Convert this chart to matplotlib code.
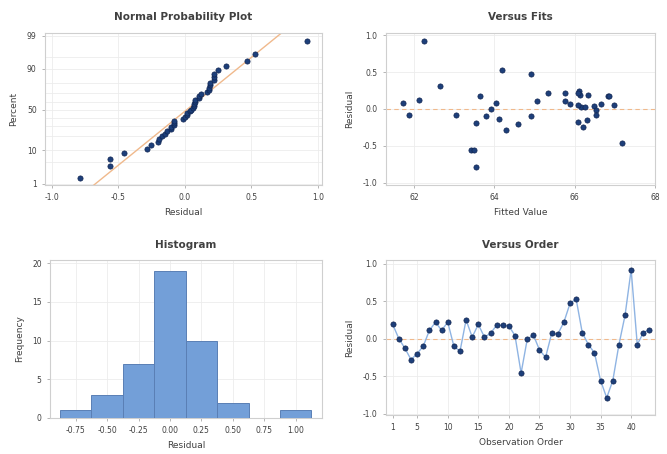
from statistics import NormalDist

import numpy as np
import matplotlib
matplotlib.use("Agg")
import matplotlib.pyplot as plt

residuals = [0.19, 0.00, -0.13, -0.28, -0.20, -0.10, 0.11, 0.22, 0.11, 0.22,
             -0.10, -0.17, 0.25, 0.02, 0.19, 0.02, 0.07, 0.18, 0.18, 0.17,
             0.04, -0.46, -0.01, 0.05, -0.15, -0.25, 0.07, 0.06, 0.22, 0.47,
             0.53, 0.08, -0.08, -0.19, -0.56, -0.79, -0.56, -0.08, 0.31, 0.92,
             -0.08, 0.08, 0.12]
# fitted values matched to the same observations ("Versus Fits")
fitted = [66.33, 63.91, 64.12, 64.28, 64.59, 64.90, 65.76, 65.33, 65.07, 65.75,
          63.80, 66.08, 66.10, 66.16, 66.12, 66.25, 65.89, 63.64, 66.82, 66.86,
          66.49, 67.18, 66.53, 66.97, 66.31, 66.20, 66.66, 66.08, 66.08, 64.90,
          64.18, 64.03, 66.53, 63.53, 63.41, 63.53, 63.49, 61.87, 62.65, 62.25,
          63.04, 61.72, 62.13]

pct_ticks = [1, 10, 50, 90, 99]
pct_minor = [5, 20, 30, 40, 60, 70, 80, 95]
hist_edges = [-0.875, -0.625, -0.375, -0.125, 0.125, 0.375, 0.625, 0.875, 1.125]
hist_ticks = [-0.75, -0.50, -0.25, 0.00, 0.25, 0.50, 0.75, 1.00]
order_ticks = [1, 5, 10, 15, 20, 25, 30, 35, 40]

DOT = "#1d3f7a"
DOT_EDGE = "#0f2450"
REF = "#f0b98c"
GRID = "#ececec"
TXT = "#404040"

plt.rcParams["font.family"] = ["DejaVu Sans"]

nd = NormalDist()
res = np.array(residuals)
n = len(res)


def style(ax, title, xlabel, ylabel):
    ax.set_title(title, fontsize=7.5, fontweight="bold", color=TXT, pad=9)
    ax.set_xlabel(xlabel, fontsize=6.5, color=TXT, labelpad=4)
    ax.set_ylabel(ylabel, fontsize=6.5, color=TXT, labelpad=6)
    ax.tick_params(labelsize=5.5, colors=TXT, length=2.5, width=0.6,
                   color="#aaaaaa")
    for s in ax.spines.values():
        s.set_color("#cfcfcf")
        s.set_linewidth(0.8)
    ax.set_axisbelow(True)


fig = plt.figure(figsize=(6.67, 4.54), dpi=100)

# ---------------------------------------------------- #
# Normal probability plot
ax1 = fig.add_axes([0.0675, 0.5925, 0.415, 0.335])
xs = np.sort(res)
probs = [(i + 1 - 0.3) / (n + 0.4) for i in range(n)]
zs = np.array([nd.inv_cdf(p) for p in probs])
mu, sd = res.mean(), res.std(ddof=1)
zline = np.linspace(-3, 3, 50)
ax1.plot(mu + sd * zline, zline, color=REF, lw=1.0, zorder=2)
ax1.scatter(xs, zs, s=14, color=DOT, edgecolor=DOT_EDGE, linewidth=0.5, zorder=3)
ax1.set_yticks([nd.inv_cdf(p / 100) for p in pct_ticks])
ax1.set_yticklabels([str(p) for p in pct_ticks])
ax1.set_yticks([nd.inv_cdf(p / 100) for p in pct_minor], minor=True)
ax1.tick_params(axis="y", which="minor", length=0)
ax1.set_xticks([-1.0, -0.5, 0.0, 0.5, 1.0])
ax1.set_xticklabels(["-1.0", "-0.5", "0.0", "0.5", "1.0"])
ax1.set_xlim(-1.05, 1.03)
ax1.set_ylim(nd.inv_cdf(0.009), nd.inv_cdf(0.992))
ax1.grid(True, which="both", color=GRID, lw=0.6)
style(ax1, "Normal Probability Plot", "Residual", "Percent")

# ---------------------------------------------------- #
# Versus fits
ax2 = fig.add_axes([0.5787, 0.5925, 0.4033, 0.335])
ax2.axhline(0, color=REF, lw=0.8, ls=(0, (4, 3)), zorder=2)
ax2.scatter(fitted, res, s=14, color=DOT, edgecolor=DOT_EDGE, linewidth=0.5, zorder=3)
ax2.set_xticks([62, 64, 66, 68])
ax2.set_yticks([-1.0, -0.5, 0.0, 0.5, 1.0])
ax2.set_yticklabels(["-1.0", "-0.5", "0.0", "0.5", "1.0"])
ax2.set_xlim(61.3, 68.0)
ax2.set_ylim(-1.03, 1.03)
ax2.grid(True, color=GRID, lw=0.6)
style(ax2, "Versus Fits", "Fitted Value", "Residual")

# ---------------------------------------------------- #
# Histogram
ax3 = fig.add_axes([0.075, 0.0793, 0.4078, 0.348])
ax3.hist(res, bins=hist_edges, color="#739fd8", edgecolor="#5a7fb5",
         linewidth=0.7, zorder=3)
ax3.set_xticks(hist_ticks)
ax3.set_xticklabels([f"{t:.2f}" for t in hist_ticks])
ax3.set_yticks([0, 5, 10, 15, 20])
ax3.set_xlim(-0.955, 1.21)
ax3.set_ylim(0, 20.4)
ax3.grid(True, color=GRID, lw=0.6)
style(ax3, "Histogram", "Residual", "Frequency")

# ---------------------------------------------------- #
# Versus order
ax4 = fig.add_axes([0.5787, 0.0859, 0.4033, 0.3414])
obs = np.arange(1, n + 1)
ax4.axhline(0, color=REF, lw=0.8, ls=(0, (4, 3)), zorder=2)
ax4.plot(obs, res, color="#8fb4e3", lw=1.0, zorder=3)
ax4.scatter(obs, res, s=14, color=DOT, edgecolor=DOT_EDGE, linewidth=0.5, zorder=4)
ax4.set_xticks(order_ticks)
ax4.set_yticks([-1.0, -0.5, 0.0, 0.5, 1.0])
ax4.set_yticklabels(["-1.0", "-0.5", "0.0", "0.5", "1.0"])
ax4.set_xlim(-0.1, 43.9)
ax4.set_ylim(-1.02, 1.05)
ax4.grid(True, color=GRID, lw=0.6)
style(ax4, "Versus Order", "Observation Order", "Residual")

fig.savefig("out.png", dpi=100)
plt.close(fig)
